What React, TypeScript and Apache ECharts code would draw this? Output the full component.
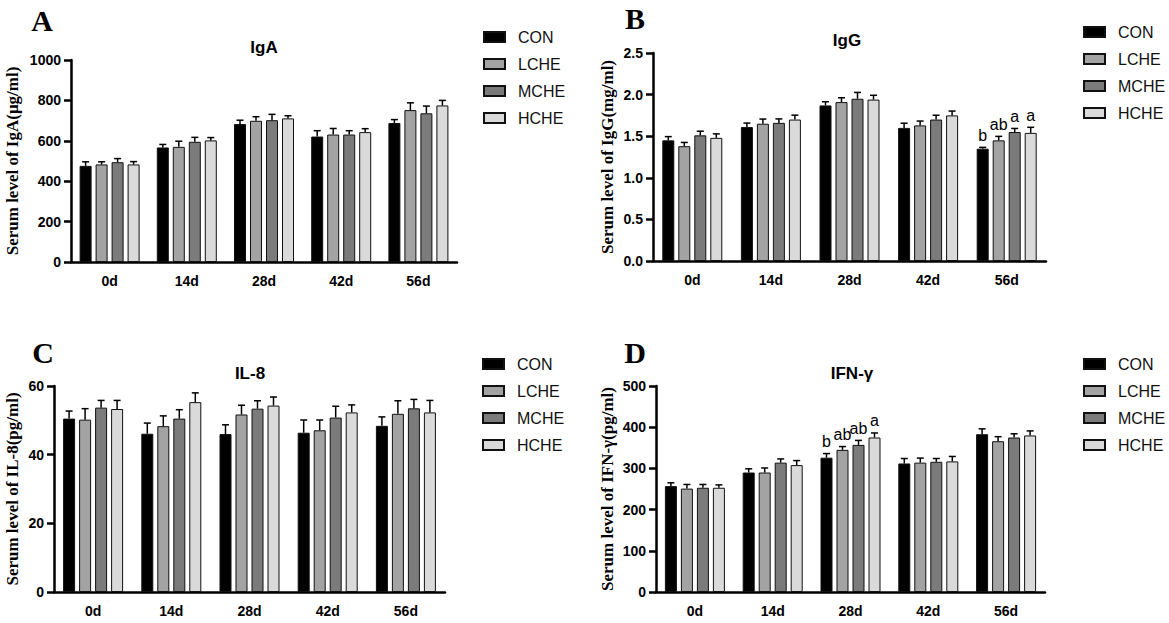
import React, { useEffect, useRef } from "react";
import * as echarts from "echarts";

const categories = ["0d", "14d", "28d", "42d", "56d"];
const groups = ["CON", "LCHE", "MCHE", "HCHE"];
const groupColors = ["#000000", "#a3a3a3", "#7b7b7b", "#dadada"];

// IgA (μg/ml)
const igaCON = [476, 567, 683, 621, 688];
const igaLCHE = [483, 570, 699, 631, 752];
const igaMCHE = [494, 595, 702, 631, 736];
const igaHCHE = [483, 602, 711, 643, 775];
const igaSemCON = [20, 15, 19, 29, 17];
const igaSemLCHE = [13, 28, 20, 30, 36];
const igaSemMCHE = [18, 22, 29, 19, 36];
const igaSemHCHE = [14, 14, 13, 17, 25];

// IgG (mg/ml)
const iggCON = [1.45, 1.61, 1.87, 1.6, 1.35];
const iggLCHE = [1.38, 1.65, 1.91, 1.63, 1.45];
const iggMCHE = [1.51, 1.66, 1.95, 1.7, 1.55];
const iggHCHE = [1.48, 1.7, 1.94, 1.75, 1.54];
const iggSemCON = [0.045, 0.048, 0.044, 0.056, 0.016];
const iggSemLCHE = [0.045, 0.056, 0.052, 0.052, 0.048];
const iggSemMCHE = [0.05, 0.048, 0.076, 0.052, 0.043];
const iggSemHCHE = [0.048, 0.053, 0.052, 0.052, 0.067];
const iggLetters = [
  ["", "", "", "", "b"],
  ["", "", "", "", "ab"],
  ["", "", "", "", "a"],
  ["", "", "", "", "a"],
];

// IL-8 (pg/ml)
const il8CON = [50.5, 46.1, 46.0, 46.4, 48.4];
const il8LCHE = [50.2, 48.3, 51.7, 47.1, 51.9];
const il8MCHE = [53.7, 50.5, 53.4, 50.8, 53.5];
const il8HCHE = [53.3, 55.3, 54.3, 52.3, 52.3];
const il8SemCON = [2.2, 3.1, 2.7, 3.7, 2.6];
const il8SemLCHE = [3.2, 3.0, 2.7, 3.0, 3.8];
const il8SemMCHE = [2.1, 2.6, 2.3, 3.3, 2.6];
const il8SemHCHE = [2.5, 2.7, 2.5, 2.2, 3.5];

// IFN-γ (pg/ml)
const ifnCON = [257, 290, 326, 312, 383];
const ifnLCHE = [251, 290, 345, 314, 366];
const ifnMCHE = [253, 314, 357, 316, 375];
const ifnHCHE = [253, 308, 375, 317, 380];
const ifnSemCON = [8, 9, 10, 12, 13];
const ifnSemLCHE = [10, 11, 8, 11, 11];
const ifnSemMCHE = [8, 9, 11, 8, 9];
const ifnSemHCHE = [7, 11, 11, 12, 11];
const ifnLetters = [
  ["", "", "b", "", ""],
  ["", "", "ab", "", ""],
  ["", "", "ab", "", ""],
  ["", "", "a", "", ""],
];

const BAR_W = 12;
const BAR_GAP = 4;

const panels = [
  {
    tag: "A",
    title: "IgA",
    yName: "Serum level of IgA(μg/ml)",
    means: [igaCON, igaLCHE, igaMCHE, igaHCHE],
    sems: [igaSemCON, igaSemLCHE, igaSemMCHE, igaSemHCHE],
    letters: null as string[][] | null,
    max: 1000,
    interval: 200,
    decimals: 0,
    grid: { left: 71, top: 60, width: 386, height: 202 },
    nameGap: 50,
    legendPos: { left: 483, top: 29 },
    tagPos: [42, 20],
    titlePos: [264, 47],
  },
  {
    tag: "B",
    title: "IgG",
    yName: "Serum level of IgG(mg/ml)",
    means: [iggCON, iggLCHE, iggMCHE, iggHCHE],
    sems: [iggSemCON, iggSemLCHE, iggSemMCHE, iggSemHCHE],
    letters: iggLetters,
    max: 2.5,
    interval: 0.5,
    decimals: 1,
    grid: { left: 653, top: 53, width: 393, height: 208 },
    nameGap: 37,
    legendPos: { left: 1083, top: 24 },
    tagPos: [635, 18],
    titlePos: [847, 40],
  },
  {
    tag: "C",
    title: "IL-8",
    yName: "Serum level of IL-8(pg/ml)",
    means: [il8CON, il8LCHE, il8MCHE, il8HCHE],
    sems: [il8SemCON, il8SemLCHE, il8SemMCHE, il8SemHCHE],
    letters: null as string[][] | null,
    max: 60,
    interval: 20,
    decimals: 0,
    grid: { left: 54, top: 386, width: 391, height: 206 },
    nameGap: 33,
    legendPos: { left: 482, top: 356 },
    tagPos: [43, 352],
    titlePos: [250, 373],
  },
  {
    tag: "D",
    title: "IFN-γ",
    yName: "Serum level of IFN-γ(pg/ml)",
    means: [ifnCON, ifnLCHE, ifnMCHE, ifnHCHE],
    sems: [ifnSemCON, ifnSemLCHE, ifnSemMCHE, ifnSemHCHE],
    letters: ifnLetters,
    max: 500,
    interval: 100,
    decimals: 0,
    grid: { left: 656, top: 386, width: 389, height: 206 },
    nameGap: 40,
    legendPos: { left: 1083, top: 356 },
    tagPos: [635, 352],
    titlePos: [852, 373],
  },
];

const SANS = '"Liberation Sans", Arial, sans-serif';
const SERIF = '"Liberation Serif", "Times New Roman", serif';

function buildOption() {
  const grid: any[] = [];
  const xAxis: any[] = [];
  const yAxis: any[] = [];
  const series: any[] = [];
  const legend: any[] = [];
  const graphic: any[] = [];

  panels.forEach((p, i) => {
    grid.push({ ...p.grid });
    xAxis.push({
      type: "category",
      gridIndex: i,
      data: categories,
      axisLine: { lineStyle: { color: "#000", width: 2.5 } },
      axisTick: { alignWithLabel: true, length: 7, lineStyle: { color: "#000", width: 2.5 } },
      axisLabel: { color: "#000", fontWeight: "bold", fontSize: 14, fontFamily: SANS, margin: 12 },
      splitLine: { show: false },
    });
    yAxis.push({
      type: "value",
      gridIndex: i,
      min: 0,
      max: p.max,
      interval: p.interval,
      name: p.yName,
      nameLocation: "middle",
      nameGap: p.nameGap,
      nameTextStyle: { fontFamily: SERIF, fontWeight: "bold", fontSize: 17, color: "#000" },
      axisLine: { show: true, lineStyle: { color: "#000", width: 2.5 } },
      axisTick: { show: true, length: 7, lineStyle: { color: "#000", width: 2.5 } },
      axisLabel: {
        color: "#000",
        fontWeight: "bold",
        fontSize: 14,
        fontFamily: SANS,
        margin: 10,
        formatter: (v: number) => v.toFixed(p.decimals),
      },
      splitLine: { show: false },
    });
    groups.forEach((g, gi) => {
      series.push({
        type: "bar",
        name: g,
        xAxisIndex: i,
        yAxisIndex: i,
        data: p.means[gi],
        barWidth: BAR_W,
        barGap: `${(BAR_GAP / BAR_W) * 100}%`,
        itemStyle: { color: groupColors[gi], borderColor: "#111", borderWidth: 1 },
      });
    });
    const errData: number[][] = [];
    groups.forEach((_, gi) => {
      categories.forEach((_c, ci) => {
        errData.push([ci, p.means[gi][ci], p.sems[gi][ci], gi]);
      });
    });
    const letters = p.letters;
    series.push({
      type: "custom",
      xAxisIndex: i,
      yAxisIndex: i,
      silent: true,
      z: 5,
      data: errData,
      renderItem: (_params: any, api: any) => {
        const ci = api.value(0);
        const mean = api.value(1);
        const sem = api.value(2);
        const gi = api.value(3);
        const base = api.coord([ci, mean]);
        const top = api.coord([ci, mean + sem]);
        const x = base[0] + (gi - 1.5) * (BAR_W + BAR_GAP);
        const children: any[] = [
          { type: "line", shape: { x1: x, y1: base[1], x2: x, y2: top[1] }, style: { stroke: "#000", lineWidth: 1.5 } },
          { type: "line", shape: { x1: x - 3.5, y1: top[1], x2: x + 3.5, y2: top[1] }, style: { stroke: "#000", lineWidth: 1.5 } },
        ];
        const letter = letters ? letters[gi][ci] : "";
        if (letter) {
          children.push({
            type: "text",
            style: {
              text: letter,
              x,
              y: top[1] - 4,
              align: "center",
              verticalAlign: "bottom",
              font: `16px ${SANS}`,
              fill: "#000",
            },
          });
        }
        return { type: "group", children };
      },
    });
    legend.push({
      orient: "vertical",
      left: p.legendPos.left,
      top: p.legendPos.top,
      padding: 0,
      itemWidth: 21,
      itemHeight: 10,
      itemGap: 11,
      icon: "rect",
      selectedMode: false,
      data: groups,
      textStyle: { fontSize: 16, lineHeight: 16, fontFamily: SANS, color: "#111", padding: [0, 0, 0, 8] },
    });
    graphic.push({
      type: "text",
      x: p.tagPos[0],
      y: p.tagPos[1],
      style: { text: p.tag, font: `bold 30px ${SERIF}`, fill: "#000", align: "center", verticalAlign: "middle" },
    });
    graphic.push({
      type: "text",
      x: p.titlePos[0],
      y: p.titlePos[1],
      style: { text: p.title, font: `bold 17px ${SANS}`, fill: "#000", align: "center", verticalAlign: "middle" },
    });
  });

  return {
    animation: false,
    backgroundColor: "#ffffff",
    grid,
    xAxis,
    yAxis,
    series,
    legend,
    graphic,
  };
}

export default function App() {
  const ref = useRef<HTMLDivElement>(null);
  useEffect(() => {
    if (!ref.current) return;
    const chart = echarts.init(ref.current, null, { renderer: "svg" });
    chart.setOption(buildOption() as any);
    return () => chart.dispose();
  }, []);
  return (
    <div
      ref={ref}
      style={{ position: "fixed", left: 0, top: 0, width: 1169, height: 623, background: "#fff" }}
    />
  );
}
